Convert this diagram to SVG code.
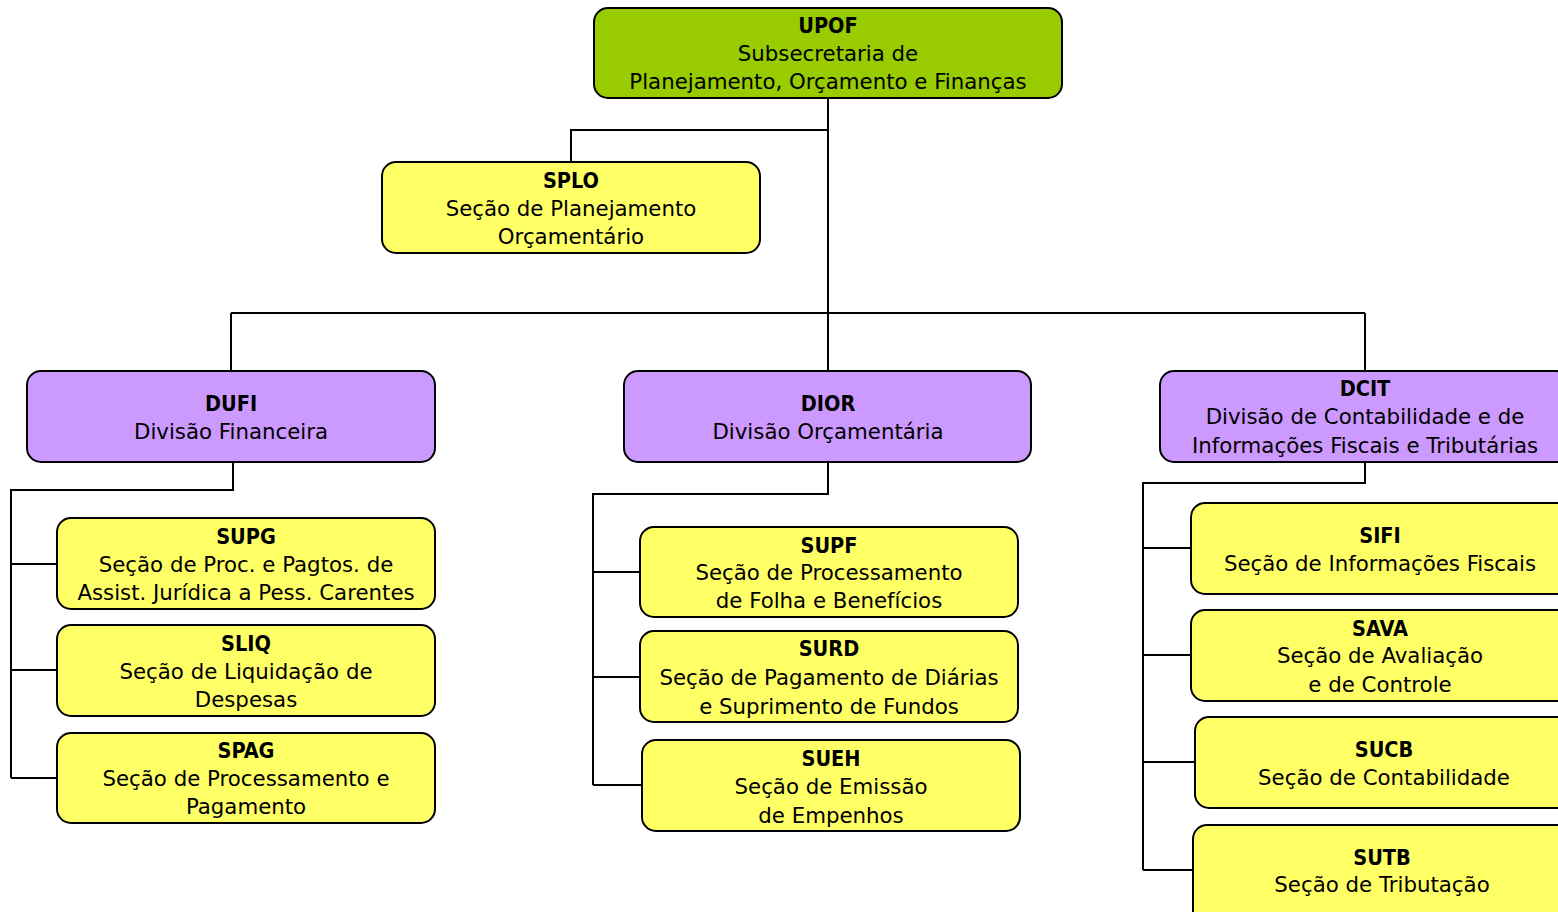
<svg xmlns="http://www.w3.org/2000/svg" width="1558" height="912" viewBox="0 0 1558 912">
<style>
.box{stroke:#000;stroke-width:2}
.g{fill:#99cc00}
.y{fill:#ffff66}
.p{fill:#cc99ff}
text{font-family:"DejaVu Sans",sans-serif;font-size:21.3px;fill:#000;text-anchor:middle;dominant-baseline:central}
.b{font-family:"DejaVu Sans Condensed","DejaVu Sans",sans-serif;font-weight:bold;font-size:21.5px}
.c{fill:none;stroke:#000;stroke-width:2}
</style>
<rect width="1558" height="912" fill="#fff"/>
<g id="connectors" class="c">
<path d="M828,98 V313 M231,313 H1365 M231,313 V371 M828,313 V371 M1365,313 V371"/>
<path d="M828,130 H571 V162"/>
<path d="M233,462 V490 H11 V778 M11,564 H57 M11,670 H57 M11,778 H57"/>
<path d="M828,462 V494 H593 V785 M593,572 H640 M593,677 H640 M593,785 H642"/>
<path d="M1365,462 V483 H1143 V870 M1143,548 H1191 M1143,655 H1191 M1143,762 H1195 M1143,870 H1193"/>
</g>
<g id="UPOF"><rect class="box g" x="594" y="8" width="468" height="90" rx="14"/>
<text class="b" x="828" y="25">UPOF</text><text x="828" y="53">Subsecretaria de</text><text x="828" y="81">Planejamento, Orçamento e Finanças</text></g>
<g id="SPLO"><rect class="box y" x="382" y="162" width="378" height="91" rx="14"/>
<text class="b" x="571" y="180">SPLO</text><text x="571" y="208">Seção de Planejamento</text><text x="571" y="236">Orçamentário</text></g>
<g id="DUFI"><rect class="box p" x="27" y="371" width="408" height="91" rx="14"/>
<text class="b" x="231" y="403">DUFI</text><text x="231" y="431">Divisão Financeira</text></g>
<g id="DIOR"><rect class="box p" x="624" y="371" width="407" height="91" rx="14"/>
<text class="b" x="828" y="403">DIOR</text><text x="828" y="431">Divisão Orçamentária</text></g>
<g id="DCIT"><rect class="box p" x="1160" y="371" width="410" height="91" rx="14"/>
<text class="b" x="1365" y="388">DCIT</text><text x="1365" y="416">Divisão de Contabilidade e de</text><text x="1365" y="445">Informações Fiscais e Tributárias</text></g>
<g id="SUPG"><rect class="box y" x="57" y="518" width="378" height="91" rx="14"/>
<text class="b" x="246" y="536">SUPG</text><text x="246" y="564">Seção de Proc. e Pagtos. de</text><text x="246" y="592">Assist. Jurídica a Pess. Carentes</text></g>
<g id="SLIQ"><rect class="box y" x="57" y="625" width="378" height="91" rx="14"/>
<text class="b" x="246" y="643">SLIQ</text><text x="246" y="671">Seção de Liquidação de</text><text x="246" y="699">Despesas</text></g>
<g id="SPAG"><rect class="box y" x="57" y="733" width="378" height="90" rx="14"/>
<text class="b" x="246" y="750">SPAG</text><text x="246" y="778">Seção de Processamento e</text><text x="246" y="806">Pagamento</text></g>
<g id="SUPF"><rect class="box y" x="640" y="527" width="378" height="90" rx="14"/>
<text class="b" x="829" y="545">SUPF</text><text x="829" y="572">Seção de Processamento</text><text x="829" y="600">de Folha e Benefícios</text></g>
<g id="SURD"><rect class="box y" x="640" y="631" width="378" height="91" rx="14"/>
<text class="b" x="829" y="648">SURD</text><text x="829" y="677">Seção de Pagamento de Diárias</text><text x="829" y="706">e Suprimento de Fundos</text></g>
<g id="SUEH"><rect class="box y" x="642" y="740" width="378" height="91" rx="14"/>
<text class="b" x="831" y="758">SUEH</text><text x="831" y="786">Seção de Emissão</text><text x="831" y="815">de Empenhos</text></g>
<g id="SIFI"><rect class="box y" x="1191" y="503" width="380" height="91" rx="14"/>
<text class="b" x="1380" y="535">SIFI</text><text x="1380" y="563">Seção de Informações Fiscais</text></g>
<g id="SAVA"><rect class="box y" x="1191" y="610" width="380" height="91" rx="14"/>
<text class="b" x="1380" y="628">SAVA</text><text x="1380" y="655">Seção de Avaliação</text><text x="1380" y="684">e de Controle</text></g>
<g id="SUCB"><rect class="box y" x="1195" y="717" width="380" height="91" rx="14"/>
<text class="b" x="1384" y="749">SUCB</text><text x="1384" y="777">Seção de Contabilidade</text></g>
<g id="SUTB"><rect class="box y" x="1193" y="825" width="380" height="100" rx="14"/>
<text class="b" x="1382" y="857">SUTB</text><text x="1382" y="884">Seção de Tributação</text></g>
</svg>
